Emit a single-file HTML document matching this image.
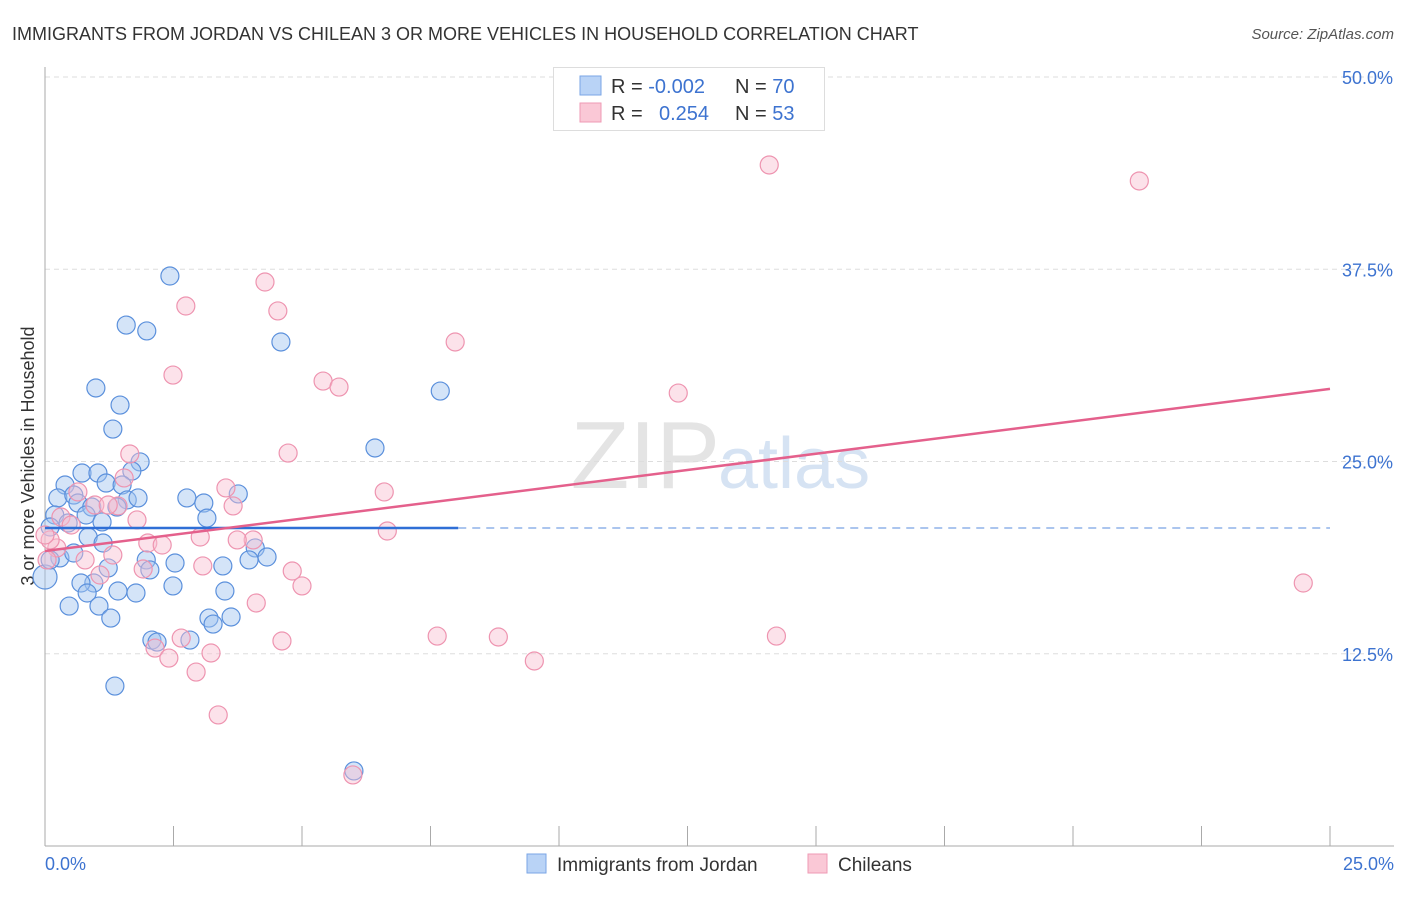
<!DOCTYPE html>
<html><head><meta charset="utf-8"><style>
body{margin:0;background:#fff;font-family:"Liberation Sans",sans-serif;}
svg text{font-family:"Liberation Sans",sans-serif;}
</style></head><body>
<svg id="chart" width="1406" height="892" xmlns="http://www.w3.org/2000/svg">
<text x="12" y="40" font-size="18" fill="#333">IMMIGRANTS FROM JORDAN VS CHILEAN 3 OR MORE VEHICLES IN HOUSEHOLD CORRELATION CHART</text>
<text x="1394" y="39" font-size="15" fill="#555" font-style="italic" text-anchor="end">Source: ZipAtlas.com</text>
<text x="720" y="488" font-size="96" fill="#e4e4e4" text-anchor="end" font-family="Liberation Serif">ZIP</text>
<text x="718" y="488" font-size="72" fill="#d6e3f3">atlas</text>
<text transform="translate(34,456) rotate(-90)" font-size="18" fill="#333" text-anchor="middle">3 or more Vehicles in Household</text>
<g id="grid"></g><g id="axes"></g><g id="pts"></g><g id="trend"></g>
<g>
<rect x="553.5" y="67.5" width="271" height="63" fill="#fff" stroke="#ddd"/>
<rect x="580" y="76" width="21" height="19" fill="#b9d3f6" stroke="#7aa6e6"/>
<rect x="580" y="103" width="21" height="19" fill="#fac8d6" stroke="#ef9ab4"/>
<text x="611" y="93" font-size="20" fill="#333">R = <tspan fill="#3d73d0">-0.002</tspan></text>
<text x="735" y="93" font-size="20" fill="#333">N = <tspan fill="#3d73d0">70</tspan></text>
<text x="611" y="120" font-size="20" fill="#333">R = <tspan fill="#3d73d0" x="659">0.254</tspan></text>
<text x="735" y="120" font-size="20" fill="#333">N = <tspan fill="#3d73d0">53</tspan></text>
</g>
<g>
<rect x="527" y="854" width="19" height="19" fill="#b9d3f6" stroke="#7aa6e6"/>
<text x="557" y="871" font-size="19" fill="#333">Immigrants from Jordan</text>
<rect x="808" y="854" width="19" height="19" fill="#fac8d6" stroke="#ef9ab4"/>
<text x="838" y="871" font-size="19" fill="#333">Chileans</text>
</g>
</svg>
<script>
const yTicks=[12.5,25,37.5,50];
const yTickLabels=["12.5%","25.0%","37.5%","50.0%"];
const xTicks=[0,2.5,5,7.5,10,12.5,15,17.5,20,22.5,25];
const xEndLabels=["0.0%","25.0%"];
const jordanX=[2.43,1.58,1.98,4.59,0.99,7.69,1.46,1.32,6.42,1.85,0.72,1.03,1.69,0.39,1.19,1.50,0.25,0.56,2.76,3.09,3.76,1.60,1.81,0.64,0.91,1.40,0.80,3.15,0.19,1.11,0.45,0.10,0.84,1.13,0.29,0.56,0.00,0.10,4.09,3.97,4.32,2.53,1.97,2.04,3.46,1.23,0.95,0.70,0.82,1.42,1.77,2.49,3.50,0.47,1.05,1.28,3.19,3.27,3.62,2.08,2.18,2.82,1.36,6.01];
const jordanY=[37.06,33.87,33.49,32.77,29.78,29.58,28.67,27.11,25.88,24.97,24.25,24.25,24.38,23.47,23.60,23.47,22.63,22.82,22.63,22.30,22.89,22.50,22.63,22.30,22.04,22.04,21.52,21.32,21.52,21.07,21.00,20.74,20.09,19.70,18.73,19.05,17.49,18.60,19.38,18.60,18.79,18.40,18.60,17.95,18.21,18.08,17.10,17.10,16.45,16.58,16.45,16.91,16.58,15.60,15.60,14.82,14.82,14.43,14.89,13.39,13.26,13.39,10.40,4.88];
const chileX=[14.09,21.29,4.28,4.53,2.74,7.98,2.49,5.41,5.72,12.32,4.73,1.65,3.52,6.60,1.54,3.66,1.42,0.64,0.97,1.23,0.31,1.79,6.66,4.05,3.74,3.02,2.00,2.28,0.23,0.10,1.32,0.78,1.91,1.07,4.81,3.07,5.00,4.11,0.04,2.65,2.14,3.23,2.41,2.94,7.63,8.82,9.52,14.23,24.48,3.37,5.99,0.00,0.51,4.61];
const chileY=[44.28,43.24,36.67,34.79,35.11,32.77,30.62,30.23,29.84,29.45,25.55,25.49,23.28,23.02,23.93,22.11,22.11,23.02,22.17,22.17,21.39,21.20,20.48,19.90,19.90,20.09,19.70,19.57,19.38,19.90,18.92,18.60,18.01,17.62,17.88,18.21,16.91,15.80,18.60,13.52,12.87,12.55,12.22,11.31,13.65,13.59,12.03,13.65,17.10,8.52,4.62,20.22,20.87,13.33];
const jordanTrend=[20.68,20.68];
const jordanSolidEnd=8.04;
const chileTrend=[19.18,29.72];
const NS="http://www.w3.org/2000/svg";
const X0=45,X1=1330,Y0=846,Y50=77;
const sx=v=>X0+v/25*(X1-X0);
const sy=v=>Y0-v/50*(Y0-Y50);
function mk(t,a,p){const e=document.createElementNS(NS,t);for(const k in a)e.setAttribute(k,a[k]);document.getElementById(p).appendChild(e);return e;}
yTicks.forEach((v,i)=>{
  const l=mk('line',{x1:X0,x2:1394,y1:sy(v),y2:sy(v),stroke:'#ddd','stroke-dasharray':'5,4'},'grid');
  
  
  const t=mk('text',{x:1393,y:sy(v)+7,'font-size':18,fill:'#3d73d0','text-anchor':'end'},'axes');
  t.textContent=yTickLabels[i];
  
  
});
const ax=mk('line',{x1:X0,x2:X0,y1:67,y2:Y0,stroke:'#aaa'},'axes');


const bx=mk('line',{x1:X0,x2:1394,y1:Y0,y2:Y0,stroke:'#aaa'},'axes');


xTicks.forEach(v=>{
  const l=mk('line',{x1:sx(v),x2:sx(v),y1:826,y2:Y0,stroke:'#aaa'},'axes');
  
  
});
[[0,'start',45],[25,'end',1394]].forEach((d,i)=>{
  const t=mk('text',{x:d[2],y:870,'font-size':18,fill:'#3d73d0','text-anchor':d[1]},'axes');
  t.textContent=xEndLabels[i];
  
  
});
jordanX.forEach((x,i)=>{
  const r=(x===0)?12:9;
  const c=mk('circle',{cx:sx(x),cy:sy(jordanY[i]),r:r,fill:'rgba(160,196,240,0.45)',stroke:'#5b90dc','stroke-width':1.2},'pts');
  
  
});
chileX.forEach((x,i)=>{
  const c=mk('circle',{cx:sx(x),cy:sy(chileY[i]),r:9,fill:'rgba(248,190,208,0.45)',stroke:'#ee94b0','stroke-width':1.2},'pts');
  
  
});
const slope=(jordanTrend[1]-jordanTrend[0])/25;
const j1=mk('line',{x1:sx(0),y1:sy(jordanTrend[0]),x2:sx(jordanSolidEnd),y2:sy(jordanTrend[0]+slope*jordanSolidEnd),stroke:'#2f6fd6','stroke-width':2.5},'trend');


const j2=mk('line',{x1:sx(jordanSolidEnd),y1:sy(jordanTrend[0]+slope*jordanSolidEnd),x2:sx(25),y2:sy(jordanTrend[1]),stroke:'#8fb2e8','stroke-width':1.5,'stroke-dasharray':'8,6'},'trend');


const c1=mk('line',{x1:sx(0),y1:sy(chileTrend[0]),x2:sx(25),y2:sy(chileTrend[1]),stroke:'#e4608c','stroke-width':2.5},'trend');


</script>
</body></html>
